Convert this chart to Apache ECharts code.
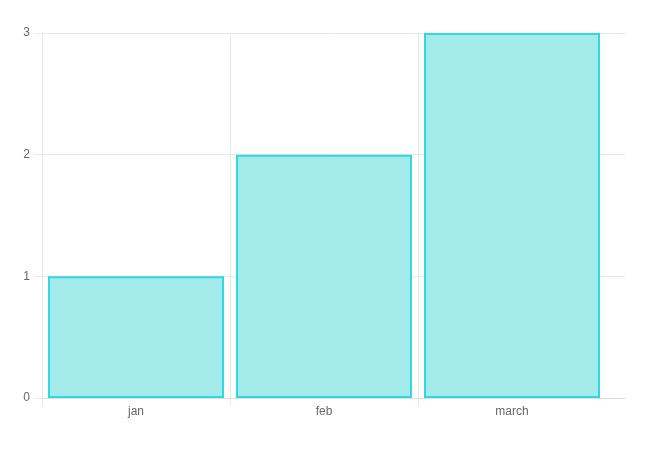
<!DOCTYPE html>
<html>
<head>
<meta charset="utf-8">
<script src="https://cdn.jsdelivr.net/npm/echarts@6/dist/echarts.min.js"></script>
<style>html,body{margin:0;padding:0;background:#fff;}#c{width:646px;height:451px;}</style>
</head>
<body>
<div id="c"></div>
<script>
const categories = ['jan', 'feb', 'march'];
const values = [1, 2, 3];
const yTicks = [0, 1, 2, 3];

const chart = echarts.init(document.getElementById('c'), null, {renderer: 'canvas'});
const gridLine = '#e8e8e8';
const font = '"Liberation Sans", Arial, Helvetica, sans-serif';
chart.setOption({
  animation: false,
  grid: [
    {left: 42, right: 21, top: 33, bottom: 53},
    {left: 42, right: 40, top: 33, bottom: 53}
  ],
  xAxis: [
    {gridIndex: 0, type: 'value', min: 0, max: 3.1, interval: 1,
     axisLine: {show: true, lineStyle: {color: '#dddddd'}},
     axisTick: {show: true, length: 8, lineStyle: {color: gridLine}, customValues: [0, 1, 2]},
     axisLabel: {show: false}, splitLine: {show: false}},
    {gridIndex: 1, type: 'category', data: categories,
     axisLine: {show: false},
     axisTick: {show: false},
     axisLabel: {color: '#666', fontSize: 12, margin: 8, fontFamily: font},
     splitLine: {show: true, showMaxLine: false, lineStyle: {color: gridLine}}}
  ],
  yAxis: [
    {gridIndex: 0, type: 'value', min: yTicks[0], max: yTicks[yTicks.length - 1], interval: 1,
     axisLine: {show: true, lineStyle: {color: gridLine}},
     axisTick: {show: true, length: 8, lineStyle: {color: gridLine}},
     axisLabel: {color: '#666', fontSize: 12, margin: 12, fontFamily: font},
     splitLine: {show: true, lineStyle: {color: gridLine}}},
    {gridIndex: 1, type: 'value', min: yTicks[0], max: yTicks[yTicks.length - 1], show: false,
     splitLine: {show: false}}
  ],
  series: [{
    type: 'bar', xAxisIndex: 1, yAxisIndex: 1, data: values,
    barWidth: 176,
    itemStyle: {color: '#a3eaea', borderColor: '#2ed8dc', borderWidth: 2}
  }]
});
</script>
</body>
</html>
